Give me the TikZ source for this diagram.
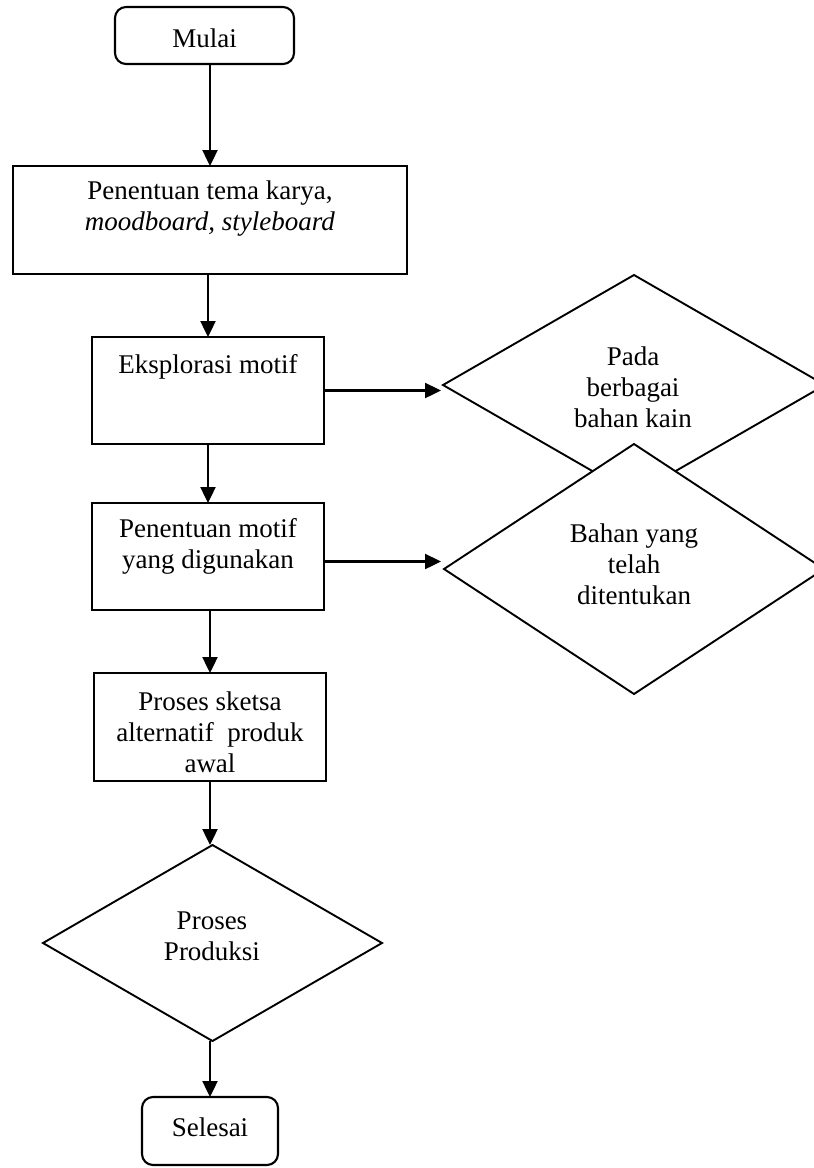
\documentclass[tikz,border=0pt]{standalone}
\usepackage{fontspec}
\setmainfont{Liberation Serif}
\usetikzlibrary{shapes.geometric,arrows.meta}
\begin{document}
\begin{tikzpicture}[x=1pt,y=-1pt,
  every node/.style={inner sep=0pt,outer sep=0pt},
  txt/.style={font=\fontsize{27}{31}\selectfont,align=center},
  boxnode/.style={draw,line width=2.1pt,rectangle},
  termnode/.style={draw,line width=2.1pt,rectangle,rounded corners=11pt},
  decnode/.style={draw,line width=1.9pt,diamond,fill=white},
  arr/.style={line width=2.4pt,-{Triangle[width=15pt,length=16pt]}},
  ln/.style={line width=2.4pt}]
\useasboundingbox (0,0) rectangle (814,1168);
\clip (0,0) rectangle (814,1168);
\fill[white] (0,0) rectangle (814,1168);

% shapes
\node[termnode,minimum width=179pt,minimum height=57pt] (mulai) at (204.5,35.5) {};
\node[boxnode,minimum width=394pt,minimum height=108pt] (tema) at (210,220) {};
\node[boxnode,minimum width=232pt,minimum height=107pt] (eks) at (208,390.5) {};
\node[boxnode,minimum width=232pt,minimum height=107pt] (pm) at (208,556.5) {};
\node[boxnode,minimum width=232pt,minimum height=108pt] (ps) at (210,727) {};
\node[decnode,minimum width=339pt,minimum height=196pt] (prod) at (212.5,943) {};
\node[termnode,minimum width=136pt,minimum height=68pt] (selesai) at (210,1131) {};
\node[decnode,minimum width=382pt,minimum height=220pt] (d1) at (634,385) {};
\node[decnode,minimum width=380pt,minimum height=250pt] (d2) at (634,569) {};

% texts
\node[txt] (t-mulai) at (204.5,38) {Mulai};
\node[txt] (t-tema) at (210,209) {Penentuan tema karya,\\\textit{moodboard, styleboard}};
\node[txt] (t-eks) at (208,367) {Eksplorasi motif};
\node[txt] (t-pm) at (208,546) {Penentuan motif\\yang digunakan};
\node[txt] (t-ps) at (210,732) {Proses sketsa\\alternatif~ produk\\awal};
\node[txt] (t-prod) at (212,936) {Proses\\Produksi};
\node[txt] (t-selesai) at (210,1127) {Selesai};
\node[txt] (t-d1) at (633,387) {Pada\\berbagai\\bahan kain};
\node[txt] (t-d2) at (634,564) {Bahan yang\\telah\\ditentukan};

% connectors
\draw[arr] (tema.north |- mulai.south) -- (tema.north);
\draw[arr] (eks.north |- tema.south) -- (eks.north);
\draw[arr] (eks.south) -- (pm.north);
\draw[arr] (ps.north |- pm.south) -- (ps.north);
\draw[arr] (ps.south) -- (ps.south |- prod.north);
\draw[arr] (selesai.north |- prod.south) -- (selesai.north);
\draw[arr] (eks.east) -- ([xshift=-2pt]eks.east -| d1.west);
\draw[arr] ([yshift=-5pt]pm.east) -- ([yshift=-5pt,xshift=-3pt]pm.east -| d2.west);
\end{tikzpicture}
\end{document}
